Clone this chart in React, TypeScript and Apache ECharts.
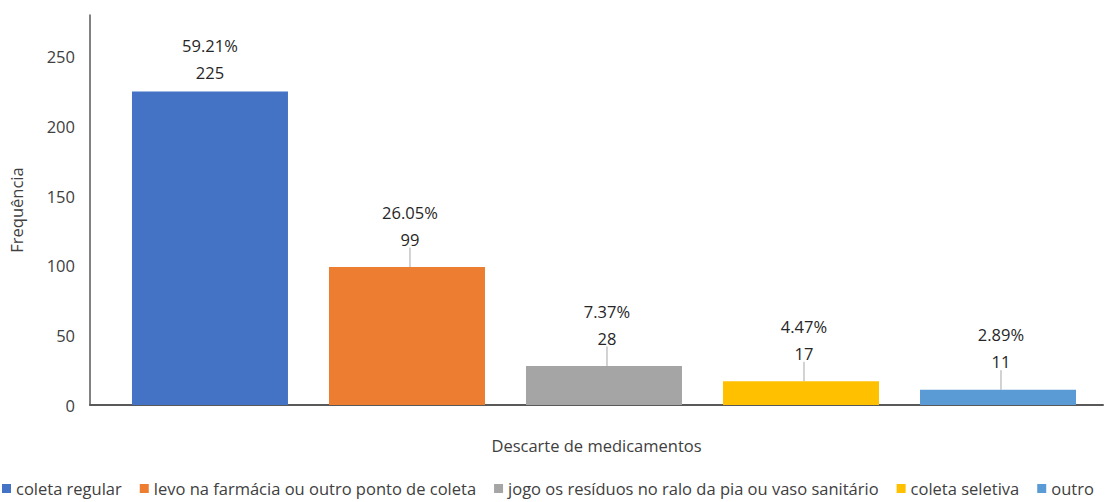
import React, { useEffect, useRef } from "react";
import * as echarts from "echarts";

const categories = [
  "coleta regular",
  "levo na farmácia ou outro ponto de coleta",
  "jogo os resíduos no ralo da pia ou vaso sanitário",
  "coleta seletiva",
  "outro",
];
const values = [225, 99, 28, 17, 11];
const positions = [1, 2, 3, 4, 5];
const colors = ["#4472C4", "#ED7D31", "#A5A5A5", "#FFC000", "#5B9BD5"];
const labelShift = [0, -9, -9, -9, -9];

const FONT = "'Open Sans', 'Noto Sans', sans-serif";
const FS = 16.5;

export default function App() {
  const ref = useRef<HTMLDivElement>(null);
  useEffect(() => {
    document.body.style.margin = "0";
    const chart = echarts.init(ref.current!, null, { renderer: "svg" });
    const total = values.reduce((a, b) => a + b, 0);
    const series = categories.map((name, i) => ({
      name,
      type: "bar",
      data: [[positions[i], values[i]]],
      barWidth: 156,
      barGap: "-100%",
      itemStyle: { color: colors[i] },
      label: {
        show: true,
        position: "top",
        distance: 6,
        formatter: () =>
          `{p|${((values[i] / total) * 100).toFixed(2)}%}\n{v|${values[i]}}`,
        rich: {
          p: { fontFamily: FONT, fontSize: FS, color: "#262626", lineHeight: 28 },
          v: { fontFamily: FONT, fontSize: FS, color: "#262626", lineHeight: 26 },
        },
      },
      labelLayout: { dy: labelShift[i], dx: labelShift[i] !== 0 ? 3 : 0 },
      labelLine: { show: labelShift[i] !== 0, lineStyle: { color: "#a6a6a6", width: 1 } },
    }));
    chart.setOption({
      animation: false,
      textStyle: { fontFamily: FONT },
      grid: { left: 90, right: 15, top: 15, bottom: 97, outerBoundsMode: "none", containLabel: false },
      legend: {
        bottom: 0,
        left: -3,
        itemWidth: 9,
        itemHeight: 9,
        itemGap: 18,
        icon: "rect",
        textStyle: { fontFamily: FONT, fontSize: FS, color: "#404040" },
        data: categories,
      },
      xAxis: {
        type: "value",
        min: 0.391,
        max: 5.533,
        name: "Descarte de medicamentos",
        nameLocation: "middle",
        nameGap: 32,
        nameTextStyle: { fontFamily: FONT, fontSize: FS, color: "#404040" },
        axisLine: { show: true, lineStyle: { color: "#595959", width: 2 } },
        axisTick: { show: false },
        axisLabel: { show: false },
        splitLine: { show: false },
      },
      yAxis: {
        type: "value",
        min: 0,
        max: 280,
        interval: 50,
        name: "Frequência",
        nameLocation: "middle",
        nameRotate: 90,
        nameGap: 65,
        nameTextStyle: { fontFamily: FONT, fontSize: FS, color: "#404040" },
        axisLine: { show: true, lineStyle: { color: "#595959", width: 1.5 } },
        axisTick: { show: false },
        axisLabel: {
          fontFamily: FONT,
          fontSize: FS,
          color: "#404040",
          margin: 15,
          formatter: (v: number) => (v % 50 === 0 ? String(v) : ""),
        },
        splitLine: { show: false },
      },
      series,
    });
    return () => chart.dispose();
  }, []);
  return <div ref={ref} style={{ width: 1118, height: 502 }} />;
}
